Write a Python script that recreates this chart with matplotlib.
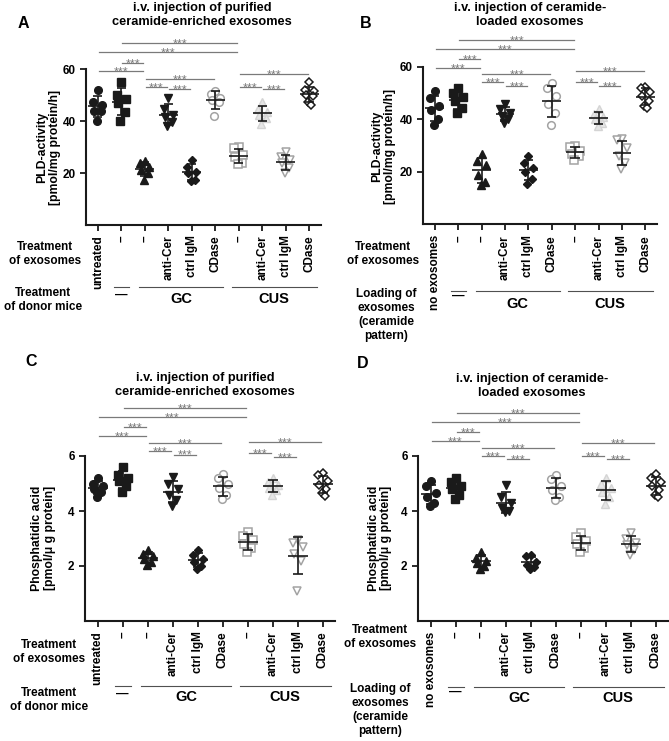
import matplotlib
matplotlib.use("Agg")
import matplotlib.pyplot as plt
import matplotlib.transforms as mtransforms
from matplotlib.lines import Line2D
import numpy as np

plt.rcParams["font.family"] = ["Liberation Sans", "DejaVu Sans"]
plt.rcParams["font.weight"] = "bold"

W, H = 669, 741

# ---- data (6-7 mice per group) ----
# group order: untreated/no exosomes, -, GC -, GC anti-Cer, GC ctrl IgM, GC CDase,
#              CUS -, CUS anti-Cer, CUS ctrl IgM, CUS CDase
pld_enriched = [
    [52, 47.5, 46, 44, 44, 40],
    [55, 50, 48.5, 47, 43.5, 40],
    [24.5, 24, 22.5, 21, 20, 17.5],
    [49, 44.5, 42.5, 41.5, 39.5, 38],
    [25, 22.5, 20.5, 20, 17.5, 17],
    [51.5, 50.5, 49, 48, 47.5, 42],
    [30, 29.5, 27, 26, 24, 23.5],
    [47.5, 44.5, 43.5, 42.5, 41, 39],
    [28, 26, 25, 24, 22, 20],
    [55, 52, 51.5, 50, 49.5, 47.5, 46],
]
pld_loaded = [
    [51, 48, 45, 43.5, 40, 38],
    [52, 50, 48.5, 47, 44.5, 42.5],
    [27, 24, 22.5, 19, 16, 15],
    [46, 44, 42.5, 41.5, 40, 38.5],
    [26, 23.5, 21.5, 20, 17.5, 15.5],
    [54, 52, 49, 46, 42.5, 38],
    [30, 29.5, 28, 27, 26, 24.5],
    [44, 42, 41, 40, 38.5, 37.5],
    [32.5, 32, 29, 26, 23.5, 21],
    [52.5, 52, 50.5, 49, 47, 45, 44.5],
]
pa_enriched = [
    [5.2, 5.0, 4.9, 4.8, 4.7, 4.5],
    [5.6, 5.3, 5.2, 5.1, 4.9, 4.7],
    [2.6, 2.45, 2.35, 2.25, 2.15, 2.05],
    [5.25, 5.0, 4.8, 4.6, 4.4, 4.2],
    [2.6, 2.4, 2.25, 2.15, 2.0, 1.9],
    [5.35, 5.2, 5.0, 4.85, 4.6, 4.45],
    [3.25, 3.1, 2.95, 2.8, 2.65, 2.5],
    [5.2, 5.05, 4.95, 4.85, 4.75, 4.6],
    [2.95, 2.85, 2.7, 2.45, 2.2, 1.1],
    [5.4, 5.3, 5.1, 4.95, 4.8, 4.65, 4.55],
]
pa_loaded = [
    [5.1, 4.9, 4.65, 4.5, 4.3, 4.2],
    [5.2, 5.05, 4.9, 4.8, 4.6, 4.45],
    [2.5, 2.3, 2.2, 2.1, 2.0, 1.9],
    [4.95, 4.5, 4.3, 4.1, 4.0, 3.95],
    [2.4, 2.35, 2.15, 2.05, 1.95, 1.9],
    [5.3, 5.15, 4.9, 4.75, 4.5, 4.4],
    [3.2, 3.05, 2.9, 2.8, 2.65, 2.5],
    [5.2, 5.0, 4.85, 4.7, 4.5, 4.25],
    [3.2, 3.0, 2.85, 2.75, 2.6, 2.4],
    [5.35, 5.2, 5.05, 4.9, 4.75, 4.6, 4.5],
]

labels_donor = ["untreated", "–", "–", "anti-Cer", "ctrl IgM", "CDase",
                "–", "anti-Cer", "ctrl IgM", "CDase"]
labels_loading = ["no exosomes"] + labels_donor[1:]

# pairwise comparisons, all p < 0.001
comparisons = [(0, 2), (1, 2), (0, 6), (1, 6), (2, 3), (3, 4), (2, 5), (6, 7), (7, 8), (6, 9)]

# ---- styles ----
BLACK = "#1a1a1a"
GRAY = "#a3a3a3"
LIGHT = "#d4d4d4"
SIG = "#7a7a7a"
marker_styles = [
    dict(marker="o", mfc=BLACK, mec=BLACK, ms=5.5),
    dict(marker="s", mfc=BLACK, mec=BLACK, ms=5.2),
    dict(marker="^", mfc=BLACK, mec=BLACK, ms=5.8),
    dict(marker="v", mfc=BLACK, mec=BLACK, ms=5.8),
    dict(marker="D", mfc=BLACK, mec=BLACK, ms=4.4),
    dict(marker="o", mfc="white", mec=GRAY, ms=5.5, mew=1.1),
    dict(marker="s", mfc="white", mec=GRAY, ms=5.2, mew=1.1),
    dict(marker="^", mfc="#e6e6e6", mec=LIGHT, ms=5.8, mew=1.0),
    dict(marker="v", mfc="white", mec=GRAY, ms=5.8, mew=1.1),
    dict(marker="D", mfc="white", mec=BLACK, ms=4.4, mew=1.1),
]
jitter = [0.0, -0.2, 0.2, -0.14, 0.15, -0.04, 0.08]

fig = plt.figure(figsize=(W / 100, H / 100), dpi=100)


def px_rect(l, t, r, b):
    return [l / W, 1 - b / H, (r - l) / W, (b - t) / H]


def fx(px):
    return px / W


def fy(px):
    return 1 - px / H


def draw_panel(ax, groups, ylim, yticks, sig_y, ticklabels, row_y):
    for i, vals in enumerate(groups):
        vals = np.asarray(vals, dtype=float)
        order = np.argsort(-vals)
        xs = np.empty(len(vals))
        for k, idx in enumerate(order):
            xs[idx] = i + jitter[k % len(jitter)]
        ax.plot(xs, vals, ls="none", zorder=2, **marker_styles[i])
        m, sd = vals.mean(), vals.std(ddof=1)
        ax.hlines(m, i - 0.4, i + 0.4, color=BLACK, lw=1.2, zorder=3)
        ax.vlines(i, m - sd, m + sd, color=BLACK, lw=1.2, zorder=3)
        ax.hlines([m - sd, m + sd], i - 0.2, i + 0.2, color=BLACK, lw=1.2, zorder=3)

    for (a, b), y in zip(comparisons, sig_y):
        ax.plot([a + 0.04, b - 0.06], [y, y], color=SIG, lw=0.9, clip_on=False)
        ax.annotate("***", xy=((a + b) / 2, y), xytext=(0, -3.0), textcoords="offset points",
                    ha="center", va="baseline", fontsize=9, color=SIG,
                    fontweight="normal", annotation_clip=False)

    ax.set_xlim(-0.5, 9.5)
    ax.set_ylim(*ylim)
    ax.set_yticks(yticks)
    ax.set_xticks(range(10))
    ax.set_xticklabels(ticklabels, rotation=90, fontsize=8.5, fontweight="bold")
    ax.tick_params(axis="both", direction="out", length=4, width=1.3, color=BLACK)
    ax.tick_params(axis="y", labelsize=8.5)
    for s in ("top", "right"):
        ax.spines[s].set_visible(False)
    for s in ("left", "bottom"):
        ax.spines[s].set_linewidth(1.5)
        ax.spines[s].set_color(BLACK)

    # donor / loading group brackets under the tick labels
    line_px, text_px, dash_px = row_y
    trans = mtransforms.blended_transform_factory(ax.transData, fig.transFigure)
    for x1, x2 in [(0.68, 1.32), (1.75, 5.35), (5.7, 9.35)]:
        fig.add_artist(Line2D([x1, x2], [fy(line_px)] * 2, transform=trans,
                              color="#505050", lw=0.8))
    fig.text(1, fy(dash_px), "—", transform=trans, ha="center", va="center", fontsize=9)
    fig.text(3.55, fy(text_px), "GC", transform=trans, ha="center", va="center", fontsize=10.5)
    fig.text(7.5, fy(text_px), "CUS", transform=trans, ha="center", va="center", fontsize=10.5)


axA = fig.add_axes(px_rect(86, 69, 321, 225))
axB = fig.add_axes(px_rect(423, 67, 657, 224.5))
axC = fig.add_axes(px_rect(85, 456, 335, 621))
axD = fig.add_axes(px_rect(418, 456, 668, 621))

draw_panel(axA, pld_enriched, (0, 60), [20, 40, 60],
           [59.2, 62.3, 66.5, 70.0, 53.0, 52.3, 56.2, 53.0, 52.3, 58.0],
           labels_donor, (287, 299, 295))
draw_panel(axB, pld_loaded, (0, 60), [20, 40, 60],
           [59.6, 63.0, 66.9, 70.3, 54.3, 52.8, 57.3, 54.3, 52.8, 58.5],
           labels_loading, (291, 304, 296))
draw_panel(axC, pa_enriched, (0, 6), [2, 4, 6],
           [6.73, 7.05, 7.42, 7.75, 6.17, 6.05, 6.47, 6.1, 5.95, 6.5],
           labels_donor, (686, 697, 694))
draw_panel(axD, pa_loaded, (0, 6), [2, 4, 6],
           [6.55, 6.87, 7.24, 7.56, 6.0, 5.89, 6.29, 6.0, 5.89, 6.47],
           labels_loading, (687, 698, 692))

# titles
fig.text(fx(202), fy(15), "i.v. injection of purified\nceramide-enriched exosomes",
         ha="center", va="center", fontsize=9.2, linespacing=1.15)
fig.text(fx(530), fy(15), "i.v. injection of ceramide-\nloaded exosomes",
         ha="center", va="center", fontsize=9.2, linespacing=1.15)
fig.text(fx(205), fy(385), "i.v. injection of purified\nceramide-enriched exosomes",
         ha="center", va="center", fontsize=9.2, linespacing=1.15)
fig.text(fx(532), fy(386), "i.v. injection of ceramide-\nloaded exosomes",
         ha="center", va="center", fontsize=9.2, linespacing=1.15)

# panel letters
for letter, x, y in [("A", 23, 23), ("B", 366, 23), ("C", 31, 362), ("D", 363, 363)]:
    fig.text(fx(x), fy(y), letter, ha="center", va="center", fontsize=11.5)

# y axis labels
for x, y, txt in [(48.5, 147, "PLD-activity\n[pmol/mg protein/h]"),
                  (384, 146, "PLD-activity\n[pmol/mg protein/h]"),
                  (43.5, 538, "Phosphatidic acid\n[pmol/μ g protein]"),
                  (380, 538, "Phosphatidic acid\n[pmol/μ g protein]")]:
    fig.text(fx(x), fy(y), txt, rotation=90, ha="center", va="center",
             fontsize=8.8, linespacing=1.1)

# row descriptions left of the tick labels
rows = [
    (45, 254, "Treatment\nof exosomes"),
    (43, 300, "Treatment\nof donor mice"),
    (383, 254, "Treatment\nof exosomes"),
    (386, 315, "Loading of\nexosomes\n(ceramide\npattern)"),
    (49, 652, "Treatment\nof exosomes"),
    (49, 700, "Treatment\nof donor mice"),
    (380, 637, "Treatment\nof exosomes"),
    (380, 710, "Loading of\nexosomes\n(ceramide\npattern)"),
]
for x, y, txt in rows:
    fig.text(fx(x), fy(y), txt, ha="center", va="center", fontsize=8.5, linespacing=1.2)

fig.savefig("out.png", dpi=100)
